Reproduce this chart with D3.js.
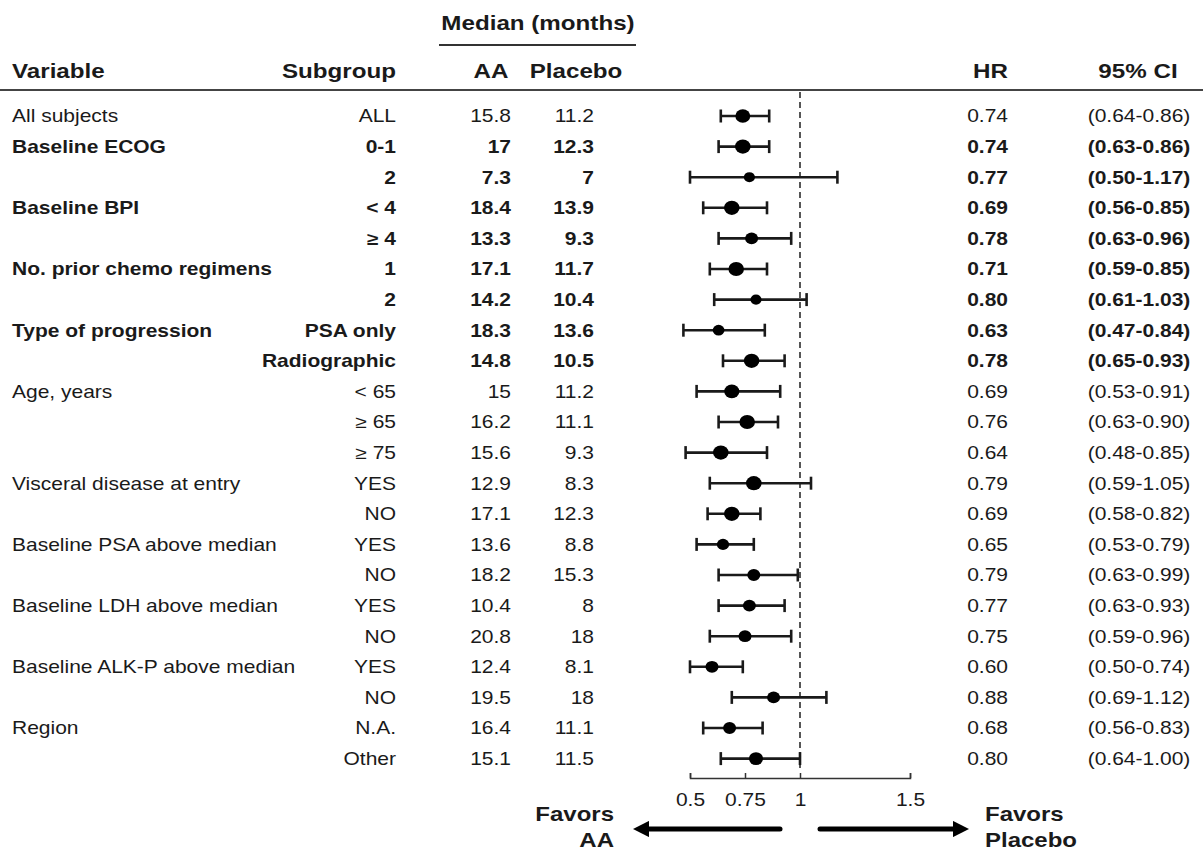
<!DOCTYPE html>
<html>
<head>
<meta charset="utf-8">
<script src="https://cdn.jsdelivr.net/npm/d3@7"></script>
<style>
  html, body { margin: 0; padding: 0; background: #fff; }
  svg { display: block; font-family: "Liberation Sans", Arial, sans-serif; }
</style>
</head>
<body>
<svg id="chart" width="1203" height="851"></svg>
<script>
const variables = ["All subjects","Baseline ECOG","","Baseline BPI","","No. prior chemo regimens","","Type of progression","","Age, years","","","Visceral disease at entry","","Baseline PSA above median","","Baseline LDH above median","","Baseline ALK-P above median","","Region",""];
const subgroups = ["ALL","0-1","2","< 4","≥ 4","1","2","PSA only","Radiographic","< 65","≥ 65","≥ 75","YES","NO","YES","NO","YES","NO","YES","NO","N.A.","Other"];
const aaMedian = [15.8,17,7.3,18.4,13.3,17.1,14.2,18.3,14.8,15,16.2,15.6,12.9,17.1,13.6,18.2,10.4,20.8,12.4,19.5,16.4,15.1];
const placeboMedian = [11.2,12.3,7,13.9,9.3,11.7,10.4,13.6,10.5,11.2,11.1,9.3,8.3,12.3,8.8,15.3,8,18,8.1,18,11.1,11.5];
const hr = [0.74,0.74,0.77,0.69,0.78,0.71,0.80,0.63,0.78,0.69,0.76,0.64,0.79,0.69,0.65,0.79,0.77,0.75,0.60,0.88,0.68,0.80];
const ciLow = [0.64,0.63,0.50,0.56,0.63,0.59,0.61,0.47,0.65,0.53,0.63,0.48,0.59,0.58,0.53,0.63,0.63,0.59,0.50,0.69,0.56,0.64];
const ciHigh = [0.86,0.86,1.17,0.85,0.96,0.85,1.03,0.84,0.93,0.91,0.90,0.85,1.05,0.82,0.79,0.99,0.93,0.96,0.74,1.12,0.83,1.00];
const boldRow = [false,true,true,true,true,true,true,true,true,false,false,false,false,false,false,false,false,false,false,false,false,false];
// relative subgroup weight
const weights = [45,49,25,49,34,49,25,28,49,46,49,49,49,49,30,34,34,34,34,34,34,40];
const axisTicks = [0.5, 0.75, 1, 1.5];

const svg = d3.select("#chart");
const ink = "#1a1a1a";
const SX = 1.2;      // horizontal stretch of the reference typography
const n = subgroups.length;
const rows = d3.range(n);

const y = d3.scalePoint().domain(rows).range([116, 116 + 30.6 * (n - 1)]);
const x = d3.scaleLinear().domain([0.5, 1.5]).range([690, 910]);
const r = d3.scaleSqrt().domain([0, 49]).range([0, 7.8]);
const fmt2 = d3.format(".2f");

function txt(g, tx, ty, s, anchor, sx) {
  return g.append("text")
    .attr("transform", `translate(${tx},${ty}) scale(${sx || SX},1)`)
    .attr("text-anchor", anchor || "start")
    .text(s);
}

// ---- headers ----
const hdr = svg.append("g").attr("font-weight", "bold").attr("font-size", 19.5).attr("fill", ink);
txt(hdr, 538, 30, "Median (months)", "middle", 1.24);
svg.append("line").attr("x1", 439).attr("x2", 636).attr("y1", 45).attr("y2", 45)
  .attr("stroke", "#333").attr("stroke-width", 2);
txt(hdr, 12, 78, "Variable", "start", 1.24);
txt(hdr, 396, 78, "Subgroup", "end", 1.24);
txt(hdr, 491, 78, "AA", "middle", 1.24);
txt(hdr, 576, 78, "Placebo", "middle", 1.24);
txt(hdr, 1008, 78, "HR", "end", 1.24);
txt(hdr, 1138, 78, "95% CI", "middle", 1.24);
svg.append("line").attr("x1", 0).attr("x2", 1203).attr("y1", 90).attr("y2", 90)
  .attr("stroke", "#444").attr("stroke-width", 2);

// ---- table text ----
const tbl = svg.append("g").attr("font-size", 17.5).attr("fill", ink);
const row = tbl.selectAll("g.row").data(rows).join("g")
  .attr("class", "row")
  .attr("transform", i => `translate(0,${y(i)})`)
  .attr("font-weight", i => boldRow[i] ? "bold" : "normal");
function col(tx, anchor, f) {
  row.append("text")
    .attr("transform", `translate(${tx},0) scale(${SX},1)`)
    .attr("dy", "0.36em")
    .attr("text-anchor", anchor)
    .text(f);
}
col(12, "start", i => variables[i]);
col(396, "end", i => subgroups[i]);
col(511, "end", i => aaMedian[i]);
col(594, "end", i => placeboMedian[i]);
col(1008, "end", i => fmt2(hr[i]));
col(1139, "middle", i => `(${fmt2(ciLow[i])}-${fmt2(ciHigh[i])})`);

// ---- reference line ----
svg.append("line").attr("x1", x(1)).attr("x2", x(1)).attr("y1", 92).attr("y2", 768)
  .attr("stroke", "#444").attr("stroke-width", 1.8).attr("stroke-dasharray", "6,4");

// ---- CI marks ----
const marks = svg.append("g").attr("stroke", "#1a1a1a").attr("stroke-width", 2.6);
const m = marks.selectAll("g").data(rows).join("g").attr("transform", i => `translate(0,${y(i)})`);
m.append("line").attr("x1", i => x(ciLow[i])).attr("x2", i => x(ciHigh[i])).attr("y1", 0).attr("y2", 0);
m.append("line").attr("x1", i => x(ciLow[i])).attr("x2", i => x(ciLow[i])).attr("y1", -6.5).attr("y2", 6.5);
m.append("line").attr("x1", i => x(ciHigh[i])).attr("x2", i => x(ciHigh[i])).attr("y1", -6.5).attr("y2", 6.5);
m.append("ellipse").attr("cx", i => x(hr[i])).attr("cy", 0)
  .attr("rx", i => r(weights[i]))
  .attr("ry", i => r(weights[i]) / 1.1)
  .attr("fill", "#000").attr("stroke", "none");

// ---- axis ----
const axis = d3.axisBottom(x).tickValues(axisTicks).tickFormat(d => String(d))
  .tickSizeInner(-5).tickSizeOuter(-5).tickPadding(16);
const ag = svg.append("g").attr("transform", "translate(0,778)").call(axis);
ag.select(".domain").attr("stroke", "#333").attr("stroke-width", 1.5);
ag.selectAll(".tick line").attr("stroke", "#333").attr("stroke-width", 1.5);
ag.selectAll(".tick text")
  .attr("font-size", 17.5).attr("fill", ink)
  .attr("font-family", "Liberation Sans, Arial, sans-serif")
  .attr("transform", `scale(${SX},1)`)
  .attr("x", 0);

// ---- arrows ----
const defs = svg.append("defs");
defs.append("marker").attr("id", "ah").attr("viewBox", "0 0 10 10")
  .attr("refX", 2).attr("refY", 5).attr("markerWidth", 3.3).attr("markerHeight", 3.3)
  .attr("orient", "auto-start-reverse")
  .append("path").attr("d", "M0,0 L10,5 L0,10 Z").attr("fill", "#000");
svg.append("line").attr("x1", x(1) - 20).attr("x2", 646).attr("y1", 829).attr("y2", 829)
  .attr("stroke", "#000").attr("stroke-width", 5).attr("stroke-linecap", "round")
  .attr("marker-end", "url(#ah)");
svg.append("line").attr("x1", x(1) + 20).attr("x2", 956).attr("y1", 829).attr("y2", 829)
  .attr("stroke", "#000").attr("stroke-width", 5).attr("stroke-linecap", "round")
  .attr("marker-end", "url(#ah)");

const fav = svg.append("g").attr("font-weight", "bold").attr("font-size", 20).attr("fill", ink);
txt(fav, 614, 821, "Favors", "end");
txt(fav, 614, 847, "AA", "end");
txt(fav, 985, 821, "Favors", "start");
txt(fav, 985, 847, "Placebo", "start");
</script>
</body>
</html>
